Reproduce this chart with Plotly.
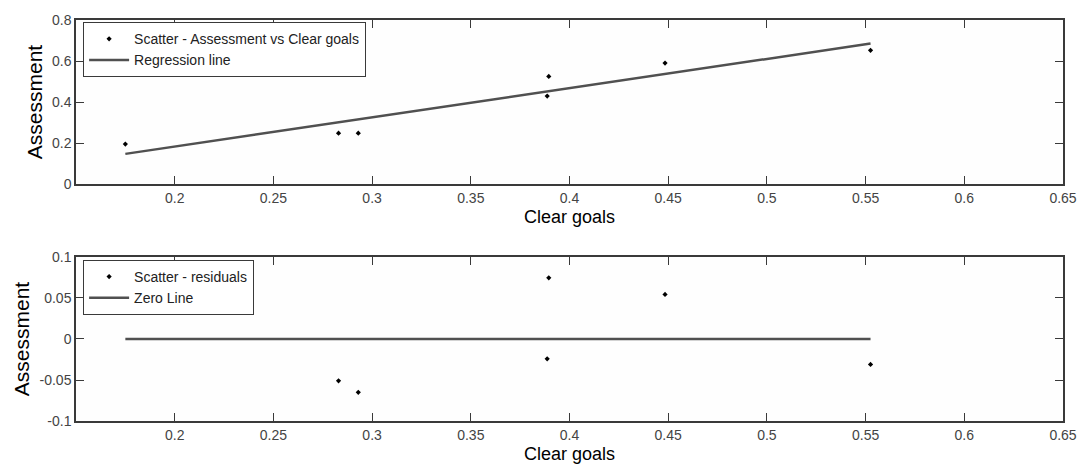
import plotly.graph_objects as go
from plotly.subplots import make_subplots

# Data
clear_goals = [0.175, 0.283, 0.293, 0.3887, 0.3895, 0.4484, 0.5525]
assessment = [0.195, 0.248, 0.248, 0.429, 0.525, 0.590, 0.652]
reg_x = [0.175, 0.5525]
reg_y = [0.147, 0.685]
resid_x = [0.283, 0.293, 0.3887, 0.3895, 0.4484, 0.5525]
resid_y = [-0.051, -0.065, -0.0242, 0.0746, 0.0544, -0.031]
zero_x = [0.175, 0.5525]
zero_y = [0, 0]
x_ticks = [0.2, 0.25, 0.3, 0.35, 0.4, 0.45, 0.5, 0.55, 0.6, 0.65]
x_ticktext = ["0.2", "0.25", "0.3", "0.35", "0.4", "0.45", "0.5", "0.55", "0.6", "0.65"]
y1_ticks = [0, 0.2, 0.4, 0.6, 0.8]
y1_ticktext = ["0", "0.2", "0.4", "0.6", "0.8"]
y2_ticks = [-0.1, -0.05, 0, 0.05, 0.1]
y2_ticktext = ["-0.1", "-0.05", "0", "0.05", "0.1"]

FONT = "Liberation Sans, Arial, sans-serif"
AX = "#3a3a3a"

fig = make_subplots(rows=2, cols=1)

fig.add_trace(go.Scatter(x=clear_goals, y=assessment, mode="markers",
                         marker=dict(color="black", size=4, symbol="diamond"),
                         name="Scatter - Assessment vs Clear goals", legend="legend"), row=1, col=1)
fig.add_trace(go.Scatter(x=reg_x, y=reg_y, mode="lines",
                         line=dict(color="#505050", width=2.5),
                         name="Regression line", legend="legend"), row=1, col=1)
fig.add_trace(go.Scatter(x=resid_x, y=resid_y, mode="markers",
                         marker=dict(color="black", size=4, symbol="diamond"),
                         name="Scatter - residuals", legend="legend2"), row=2, col=1)
fig.add_trace(go.Scatter(x=zero_x, y=zero_y, mode="lines",
                         line=dict(color="#505050", width=2.5),
                         name="Zero Line", legend="legend2"), row=2, col=1)

axis_common = dict(showline=True, linecolor=AX, linewidth=1.5, mirror="ticks",
                   ticks="inside", ticklen=8, tickwidth=1.3, tickcolor=AX,
                   showgrid=False, zeroline=False,
                   tickfont=dict(family=FONT, size=14, color="#444444"))

fig.update_xaxes(range=[0.15, 0.65], tickvals=x_ticks, ticktext=x_ticktext,
                 title=dict(text="Clear goals", font=dict(family=FONT, size=18, color="black"), standoff=6),
                 **axis_common)
fig.update_yaxes(title=dict(text="Assessment", font=dict(family=FONT, size=21, color="black"), standoff=4),
                 **axis_common)
fig.update_yaxes(range=[0, 0.8], tickvals=y1_ticks, ticktext=y1_ticktext, row=1, col=1)
fig.update_yaxes(range=[-0.1, 0.1], tickvals=y2_ticks, ticktext=y2_ticktext, row=2, col=1)

fig.update_layout(
    width=1089, height=473,
    margin=dict(l=76, r=23, t=17, b=45),
    paper_bgcolor="white", plot_bgcolor="#fefefe",
    yaxis=dict(domain=[0.591, 1.0]),
    yaxis2=dict(domain=[0.0, 0.409]),
    legend=dict(x=0.007, y=0.995, xanchor="left", yanchor="top",
                bgcolor="white", bordercolor=AX, borderwidth=1.2,
                font=dict(family=FONT, size=14, color="#222222"),
                tracegroupgap=0, itemwidth=40),
    legend2=dict(x=0.007, y=0.402, xanchor="left", yanchor="top",
                 bgcolor="white", bordercolor=AX, borderwidth=1.2,
                 font=dict(family=FONT, size=14, color="#222222"),
                 tracegroupgap=0, itemwidth=40),
    showlegend=True,
)

fig.write_html("out.html")
